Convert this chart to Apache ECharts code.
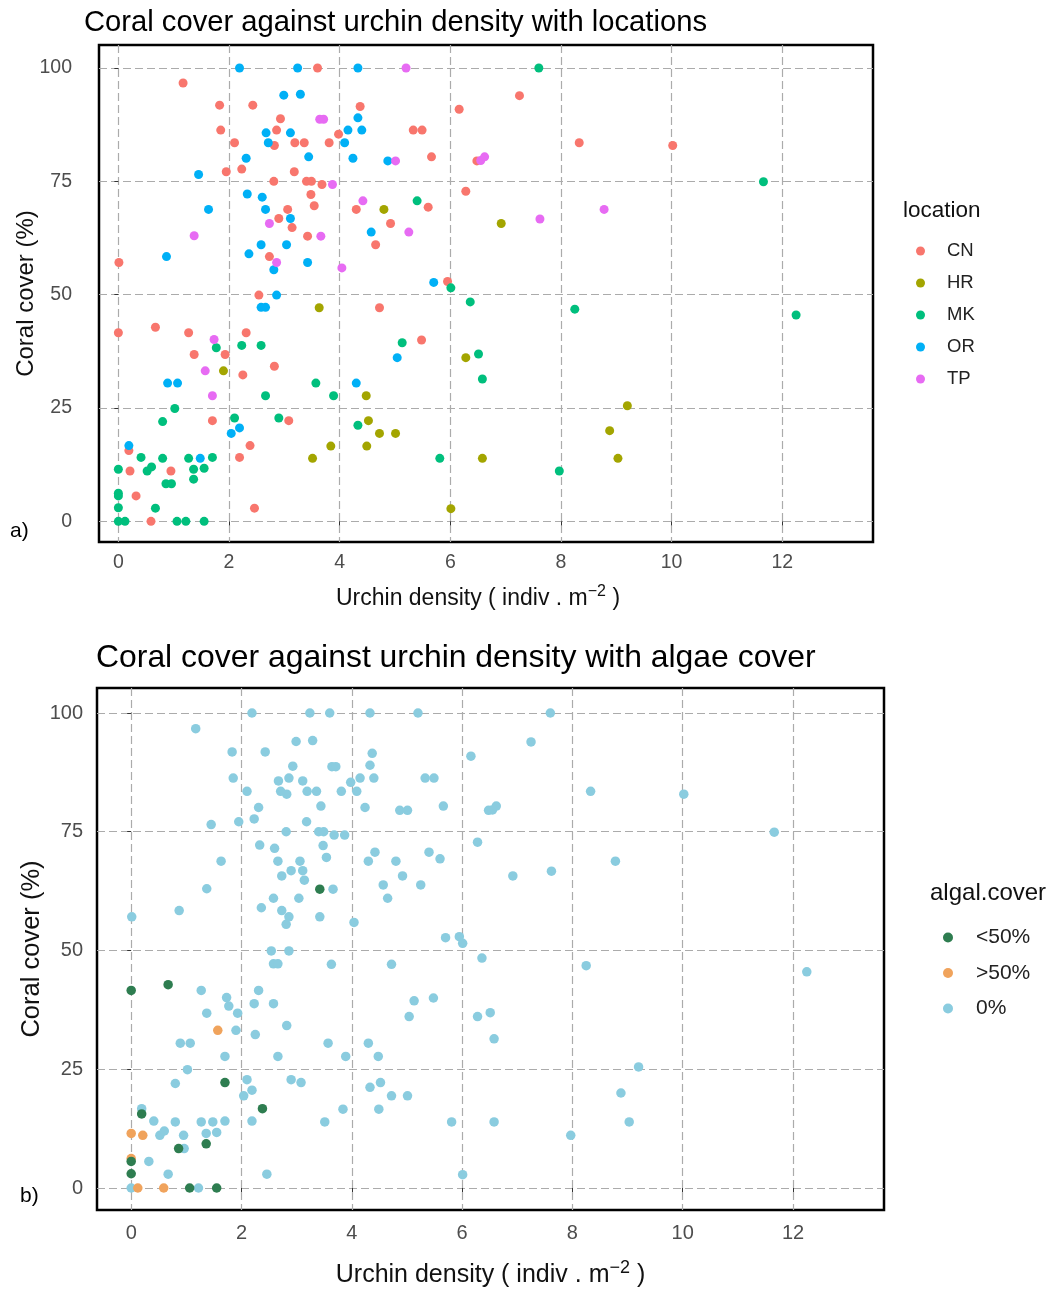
<!DOCTYPE html>
<html>
<head>
<meta charset="utf-8">
<script src="https://cdn.jsdelivr.net/npm/echarts@6/dist/echarts.min.js"></script>
<style>
  html, body { margin: 0; padding: 0; background: #ffffff; }
  #chart { width: 1051px; height: 1290px; }
</style>
</head>
<body>
<div id="chart"></div>
<script>
// Algal cover classes
const A0 = '0%', ALT = '<50%', AGT = '>50%';

// Survey points per location: [urchin density (indiv/m2), coral cover (%), algal cover]
const CN = [
  [1.17, 96.7, A0], [1.83, 91.8, A0], [2.43, 91.8, A0], [2.93, 88.8, A0], [2.86, 86.3, A0],
  [1.85, 86.3, A0], [2.10, 83.5, A0], [2.82, 82.9, A0], [3.19, 83.5, A0], [1.95, 77.1, A0],
  [2.23, 77.7, A0], [3.18, 77.1, A0], [2.81, 75.0, A0], [3.06, 68.8, A0], [2.90, 66.8, A0],
  [3.14, 64.8, A0], [2.73, 58.4, A0], [0.01, 57.1, A0], [3.60, 100, A0], [4.37, 91.5, A0],
  [6.16, 90.9, A0], [3.98, 85.4, A0], [5.33, 86.3, A0], [5.49, 86.3, A0], [3.36, 83.5, A0],
  [3.81, 83.5, A0], [5.66, 80.4, A0], [6.48, 79.5, A0], [3.40, 75.0, A0], [3.49, 75.0, A0],
  [3.68, 74.3, A0], [3.48, 72.1, A0], [3.54, 69.6, A0], [4.30, 68.8, A0], [5.60, 69.3, A0],
  [6.28, 72.8, A0], [4.92, 65.7, A0], [3.42, 62.9, ALT], [4.65, 61.0, A0], [5.95, 52.9, A0],
  [7.25, 93.9, A0], [8.33, 83.5, A0], [10.02, 82.9, A0], [2.54, 49.9, A0], [0.00, 41.6, ALT],
  [0.67, 42.8, ALT], [1.27, 41.6, A0], [2.31, 41.6, A0], [1.37, 36.8, A0], [1.93, 36.8, A0],
  [2.82, 34.2, A0], [2.25, 32.3, A0], [1.70, 22.2, ALT], [3.08, 22.2, A0], [2.38, 16.7, ALT],
  [2.19, 14.1, A0], [0.19, 15.6, ALT], [0.21, 11.1, AGT], [0.95, 11.1, A0], [0.32, 5.6, A0],
  [2.46, 2.9, A0], [0.59, 0.0, AGT], [4.72, 47.1, A0], [5.48, 40.0, A0]
];
const HR = [
  [4.80, 68.8, A0], [6.92, 65.7, A0], [1.90, 33.2, A0], [3.63, 47.1, A0], [6.28, 36.1, A0],
  [4.48, 27.7, A0], [4.52, 22.2, A0], [4.72, 19.4, A0], [5.01, 19.4, A0], [3.84, 16.6, A0],
  [4.49, 16.6, A0], [3.51, 13.9, A0], [6.58, 13.9, A0], [6.01, 2.8, A0], [9.20, 25.5, A0],
  [8.88, 20.0, A0], [9.03, 13.9, A0]
];
const MK = [
  [5.40, 70.7, A0], [6.01, 51.5, A0], [7.60, 100, A0], [11.66, 74.9, A0], [1.77, 38.3, A0],
  [2.23, 38.8, A0], [2.58, 38.8, A0], [2.66, 27.7, A0], [1.02, 24.9, A0], [0.80, 22.0, A0],
  [2.10, 22.8, A0], [2.90, 22.8, A0], [0.41, 14.1, A0], [0.80, 13.9, A0], [1.27, 13.9, A0],
  [1.70, 14.1, A0], [0.00, 11.5, AGT], [0.52, 11.1, A0], [0.60, 12.0, A0], [1.36, 11.5, A0],
  [1.55, 11.7, A0], [1.36, 9.3, ALT], [0.86, 8.3, ALT], [0.96, 8.3, A0], [0.00, 6.2, AGT],
  [0.00, 5.6, ALT], [0.00, 3.0, ALT], [0.67, 2.9, A0], [0.00, 0.0, A0], [0.12, 0.0, AGT],
  [1.06, 0.0, ALT], [1.22, 0.0, A0], [1.55, 0.0, ALT], [6.36, 48.4, A0], [5.13, 39.4, A0],
  [6.51, 36.9, A0], [6.58, 31.4, A0], [3.57, 30.5, A0], [3.89, 27.7, A0], [4.33, 21.2, A0],
  [5.81, 13.9, A0], [8.25, 46.8, A0], [7.97, 11.1, A0], [12.25, 45.5, A0]
];
const OR = [
  [2.19, 100, A0], [3.24, 100, A0], [4.33, 100, A0], [2.99, 94.0, A0], [3.29, 94.2, A0],
  [2.67, 85.7, A0], [3.11, 85.7, A0], [2.71, 83.5, A0], [2.31, 80.1, A0], [1.45, 76.5, A0],
  [2.33, 72.2, A0], [2.60, 71.5, A0], [2.66, 68.8, A0], [3.11, 66.8, A0], [1.63, 68.8, A0],
  [2.58, 61.0, A0], [3.04, 61.0, A0], [0.87, 58.4, A0], [2.36, 59.0, A0], [2.81, 55.5, A0],
  [4.33, 89.0, A0], [4.15, 86.3, A0], [4.40, 86.3, A0], [4.09, 83.5, A0], [3.44, 80.4, A0],
  [4.24, 80.1, A0], [4.87, 79.5, A0], [4.57, 63.8, A0], [3.42, 57.1, A0], [5.70, 52.7, A0],
  [2.86, 49.9, A0], [2.58, 47.2, A0], [2.66, 47.2, A0], [0.89, 30.5, A0], [1.07, 30.5, A0],
  [2.04, 19.4, A0], [2.19, 20.6, A0], [0.19, 16.7, A0], [1.48, 13.9, A0], [5.04, 36.1, A0],
  [4.30, 30.5, A0]
];
const TP = [
  [2.73, 65.7, A0], [1.37, 63.0, A0], [2.86, 57.1, A0], [5.20, 100, A0], [3.64, 88.7, A0],
  [3.71, 88.7, A0], [5.01, 79.5, A0], [6.55, 79.6, A0], [6.62, 80.4, A0], [3.87, 74.3, A0],
  [4.42, 70.7, A0], [3.66, 62.9, A0], [5.25, 63.8, A0], [4.04, 55.9, A0], [7.62, 66.7, A0],
  [8.78, 68.8, A0], [1.73, 40.1, A0], [1.57, 33.2, AGT], [1.70, 27.7, A0]
];

const locations = ['CN', 'HR', 'MK', 'OR', 'TP'];
const locationPoints = { CN: CN, HR: HR, MK: MK, OR: OR, TP: TP };
const locationColors = ['#F8766D', '#A3A500', '#00BF7D', '#00B0F6', '#E76BF3'];

const algalClasses = [ALT, AGT, A0];
const algalColors = ['#2E7D50', '#F0A35C', '#8ACCDF'];

const xTicks = [0, 2, 4, 6, 8, 10, 12];
const yTicks = [0, 25, 50, 75, 100];

const FONT = '"Liberation Sans", Arial, sans-serif';
const allPoints = [].concat(CN, HR, MK, OR, TP);

function xAxisFor(gridIndex, min, max, fs, labelMargin, nameSize, nameGap, nameShift) {
  return {
    type: 'value', gridIndex: gridIndex, min: min, max: max,
    axisLine: { show: false },
    axisTick: { show: true, length: 4, customValues: xTicks, lineStyle: { color: '#333' } },
    axisLabel: { customValues: xTicks, color: '#4d4d4d', fontSize: fs, fontFamily: FONT, margin: labelMargin },
    splitLine: { show: true, lineStyle: { color: '#ababab', width: 1.2, type: [8, 4] } },
    name: 'Urchin density ( indiv . m{sup|−2} )',
    nameLocation: 'middle', nameGap: nameGap, nameMoveOverlap: false,
    nameTextStyle: {
      color: '#111', fontSize: nameSize, fontFamily: FONT,
      padding: [0, nameShift, 0, 0],
      rich: { sup: { fontSize: Math.round(nameSize * 0.7), fontFamily: FONT, color: '#111', verticalAlign: 'top', padding: [0, 0, Math.round(nameSize * 0.6), 0] } }
    }
  };
}
function yAxisFor(gridIndex, min, max, fs, labelMargin, nameSize, nameGap) {
  return {
    type: 'value', gridIndex: gridIndex, min: min, max: max,
    axisLine: { show: false },
    axisTick: { show: true, length: 4, customValues: yTicks, lineStyle: { color: '#333' } },
    axisLabel: { customValues: yTicks, color: '#4d4d4d', fontSize: fs, fontFamily: FONT, margin: labelMargin },
    splitLine: { show: true, lineStyle: { color: '#ababab', width: 1.2, type: [8, 4] } },
    name: 'Coral cover (%)', nameLocation: 'middle', nameGap: nameGap, nameRotate: 90,
    nameMoveOverlap: false,
    nameTextStyle: { color: '#111', fontSize: nameSize, fontFamily: FONT }
  };
}

const series = [];
locations.forEach(function (loc, i) {
  series.push({
    name: loc, type: 'scatter', xAxisIndex: 0, yAxisIndex: 0,
    symbol: 'circle', symbolSize: 9,
    itemStyle: { color: locationColors[i], opacity: 1 },
    data: locationPoints[loc].map(function (p) { return [p[0], p[1]]; })
  });
});
algalClasses.slice().reverse().forEach(function (cls) {
  const i = algalClasses.indexOf(cls);
  series.push({
    name: cls, type: 'scatter', xAxisIndex: 1, yAxisIndex: 1,
    symbol: 'circle', symbolSize: 9.5,
    itemStyle: { color: algalColors[i], opacity: 1 },
    data: allPoints.filter(function (p) { return p[2] === cls; }).map(function (p) { return [p[0], p[1]]; })
  });
});

const chart = echarts.init(document.getElementById('chart'), null, { renderer: 'canvas' });
chart.setOption({
  backgroundColor: '#ffffff',
  animation: false,
  title: [
    { text: 'Coral cover against urchin density with locations', left: 79, top: 3,
      textStyle: { fontSize: 29.2, fontWeight: 'normal', color: '#000', fontFamily: FONT } },
    { text: 'Coral cover against urchin density with algae cover', left: 91, top: 637,
      textStyle: { fontSize: 31.9, fontWeight: 'normal', color: '#000', fontFamily: FONT } },
    { text: 'location', left: 898, top: 194,
      textStyle: { fontSize: 22.5, fontWeight: 'normal', color: '#111', fontFamily: FONT } },
    { text: 'algal.cover', left: 925, top: 876,
      textStyle: { fontSize: 24, fontWeight: 'normal', color: '#111', fontFamily: FONT } },
    { text: 'a)', left: 5, top: 516,
      textStyle: { fontSize: 21, fontWeight: 'normal', color: '#000', fontFamily: FONT } },
    { text: 'b)', left: 15, top: 1181,
      textStyle: { fontSize: 21, fontWeight: 'normal', color: '#000', fontFamily: FONT } }
  ],
  legend: [
    { data: locations, orient: 'vertical', left: 911, top: 236, icon: 'circle',
      itemWidth: 9, itemHeight: 9, itemGap: 12,
      textStyle: { fontSize: 18.5, color: '#222', fontFamily: FONT, lineHeight: 20, padding: [0, 0, 0, 17] } },
    { data: algalClasses, orient: 'vertical', left: 938, top: 922, icon: 'circle',
      itemWidth: 10, itemHeight: 10, itemGap: 14.5,
      textStyle: { fontSize: 21, color: '#222', fontFamily: FONT, lineHeight: 20, padding: [0, 0, 0, 18] } }
  ],
  grid: [
    { left: 99, top: 45, width: 774, height: 497, show: true, borderColor: '#000', borderWidth: 2.5,
      backgroundColor: '#fff', outerBoundsMode: 'none' },
    { left: 97, top: 688, width: 787, height: 522, show: true, borderColor: '#000', borderWidth: 2.5,
      backgroundColor: '#fff', outerBoundsMode: 'none' }
  ],
  xAxis: [
    xAxisFor(0, -0.35, 13.64, 19.5, 11, 23, 42, 16),
    xAxisFor(1, -0.62, 13.65, 20, 13, 25, 49, 0)
  ],
  yAxis: [
    yAxisFor(0, -4.56, 105.07, 19.5, 27, 24, 61),
    yAxisFor(1, -4.63, 105.26, 20, 14, 25.5, 52)
  ],
  series: series
});
</script>
</body>
</html>
